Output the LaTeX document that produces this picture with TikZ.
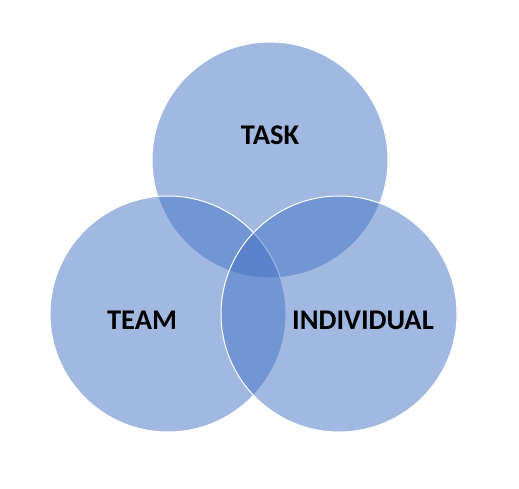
\documentclass[tikz,border=0pt]{standalone}
\usepackage{fontspec}
\setmainfont{Carlito}
\usepackage{tikz}
\definecolor{vennblue}{HTML}{4472C4}

\begin{document}
\begin{tikzpicture}[
    x=1pt, y=-1pt,
    font=\fontsize{28.5}{32}\selectfont\bfseries,
    set/.style={circle, draw=white, line width=1pt, fill=vennblue, fill opacity=0.5, minimum size=236pt, inner sep=0pt},
    lbl/.style={text=black, inner sep=0pt}
  ]
  \useasboundingbox (0,0) rectangle (519,489);
  \node[set] (task) at (270,160) {};
  \node[set] (team) at (168,314) {};
  \node[set] (indiv) at (339,314) {};
  \node[lbl] (tasklbl) at (270,135) {TASK};
  \node[lbl] (teamlbl) at (142,320) {TEAM};
  \node[lbl] (indivlbl) at (363,320) {INDIVIDUAL};
\end{tikzpicture}
\end{document}
